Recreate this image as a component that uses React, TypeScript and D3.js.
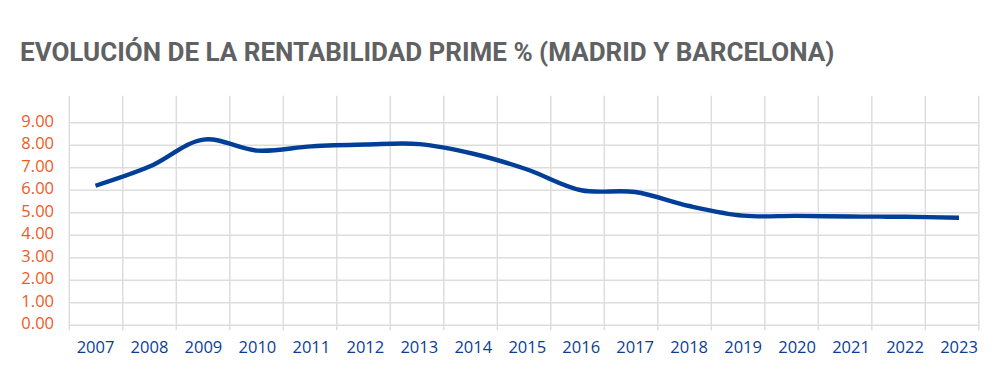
import React from "react";
import * as d3 from "d3";

const years: number[] = [2007, 2008, 2009, 2010, 2011, 2012, 2013, 2014, 2015, 2016, 2017, 2018, 2019, 2020, 2021, 2022, 2023];
const yields: number[] = [6.2, 7.05, 8.25, 7.76, 7.95, 8.03, 8.05, 7.62, 6.92, 6.0, 5.92, 5.3, 4.87, 4.86, 4.83, 4.82, 4.78];
const yTicks: number[] = [0, 1, 2, 3, 4, 5, 6, 7, 8, 9];
const title = "EVOLUCIÓN DE LA RENTABILIDAD PRIME % (MADRID Y BARCELONA)";

const W = 1000;
const H = 379;

export default function App() {
  const grid = d3.scaleBand<number>().domain(years).range([69.3, 978.8]);
  const x = d3.scaleLinear().domain([2007, 2023]).range([95.5, 959]);
  const y = d3.scaleLinear().domain([0, 9]).range([325.3, 122.7]);
  const line = d3
    .line<number>()
    .x((_, i) => x(years[i]))
    .y((v) => y(v))
    .curve(d3.curveCatmullRom.alpha(0.5));

  const colEdges = [...years.map((yr) => grid(yr) as number), grid.range()[1]];
  const gridColor = "#dddddd";
  const font = "'Open Sans', sans-serif";

  return (
    <svg width={W} height={H} style={{ position: "absolute", left: 0, top: 0, background: "#fff" }}>
      <text
        x={20}
        y={61}
        fontFamily="Roboto, sans-serif"
        fontWeight={700}
        fontSize={26}
        fill="#606163"
      >
        {title}
      </text>
      {yTicks.map((t) => (
        <line key={"h" + t} x1={69.3} x2={978.8} y1={y(t)} y2={y(t)} stroke={gridColor} strokeWidth={1.5} />
      ))}
      {colEdges.map((ex, i) => (
        <line key={"v" + i} x1={ex} x2={ex} y1={y(10.2)} y2={y(0) + 5} stroke={gridColor} strokeWidth={1.5} />
      ))}
      {yTicks.map((t) => (
        <text
          key={"yl" + t}
          x={54}
          y={y(t) + 4}
          textAnchor="end"
          fontFamily={font}
          fontSize={16.5}
          fill="#f05a1e"
        >
          {t.toFixed(2)}
        </text>
      ))}
      {years.map((yr) => (
        <text
          key={"xl" + yr}
          x={x(yr)}
          y={353}
          textAnchor="middle"
          fontFamily={font}
          fontSize={16.5}
          fill="#0b3e92"
        >
          {yr}
        </text>
      ))}
      <path d={line(yields) || ""} fill="none" stroke="#003f98" strokeWidth={4.4} />
    </svg>
  );
}
